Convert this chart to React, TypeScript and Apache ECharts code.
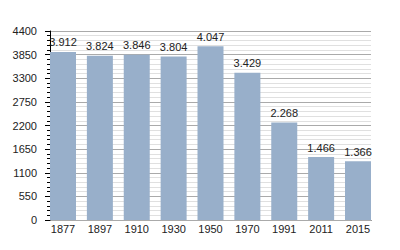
import React, { useEffect, useRef } from "react";
import * as echarts from "echarts";

const years = ["1877", "1897", "1910", "1930", "1950", "1970", "1991", "2011", "2015"];
const population = [3912, 3824, 3846, 3804, 4047, 3429, 2268, 1466, 1366];
const yTicks = { min: 0, max: 4400, interval: 550, minorInterval: 110 };

const fmt = (v: number) => String(v).replace(/\B(?=(\d{3})+(?!\d))/g, ".");

export default function App() {
  const ref = useRef<HTMLDivElement>(null);
  useEffect(() => {
    if (!ref.current) return;
    const chart = echarts.init(ref.current, undefined, { renderer: "svg" });
    const half = 13 / 36.875;
    chart.setOption({
      animation: false,
      backgroundColor: "#ffffff",
      textStyle: { fontFamily: "Liberation Sans, Arial, sans-serif" },
      grid: { left: 50, right: 29, top: 31, bottom: 30, containLabel: false },
      xAxis: {
        type: "value",
        min: -half,
        max: years.length - 1 + half,
        axisLine: { show: true, onZero: false, lineStyle: { color: "#000", width: 1 } },
        axisTick: { show: false },
        splitLine: { show: false },
        axisLabel: {
          customValues: years.map((_, i) => i),
          formatter: (v: number) => years[Math.round(v)] ?? "",
          color: "#222",
          fontSize: 11,
          margin: 3,
        },
      },
      yAxis: [
        {
          type: "value",
          position: "left",
          z: 3,
          min: yTicks.min,
          max: yTicks.max,
          interval: yTicks.interval,
          axisLine: { show: true, onZero: false, lineStyle: { color: "#000", width: 1 } },
          axisTick: { show: true, length: 5, lineStyle: { color: "#000" } },
          splitLine: { show: true, lineStyle: { color: "#aaaaaa", width: 1 } },
          axisLabel: {
            color: "#222",
            fontSize: 11,
            margin: 13,
            formatter: (v: number) => String(v),
          },
        },
        {
          type: "value",
          position: "left",
          offset: 0,
          z: 1,
          min: yTicks.min,
          max: yTicks.max,
          interval: yTicks.minorInterval,
          axisLine: { show: false, onZero: false },
          axisTick: { show: true, length: 3, lineStyle: { color: "#000" } },
          splitLine: { show: true, lineStyle: { color: "#e0e0e0", width: 1 } },
          axisLabel: { show: false },
        },
      ],
      series: [
        {
          type: "bar",
          yAxisIndex: 0,
          z: 5,
          data: population.map((v, i) => [i, v]),
          barWidth: 26,
          itemStyle: { color: "#98afca" },
          label: {
            show: true,
            position: "top",
            distance: 4,
            color: "#222",
            fontSize: 11,
            formatter: (p: any) => fmt(p.value[1]),
          },
        },
      ],
    });
    return () => chart.dispose();
  }, []);
  return (
    <div
      ref={ref}
      style={{ position: "fixed", left: 0, top: 0, width: 400, height: 250 }}
    />
  );
}
